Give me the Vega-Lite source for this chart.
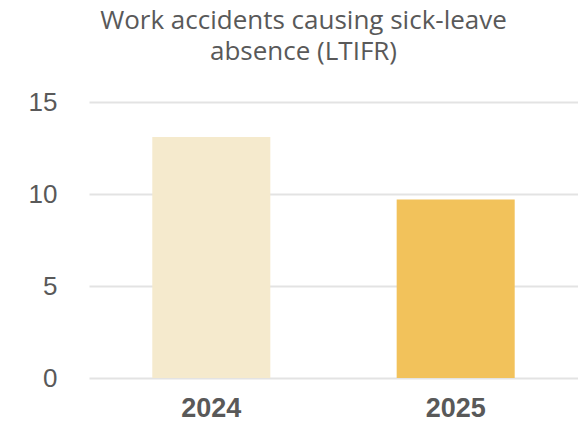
{
  "$schema": "https://vega.github.io/schema/vega-lite/v6.json",
  "autosize": "none",
  "width": 489,
  "height": 276,
  "padding": {"left": 89, "top": 102, "right": 0, "bottom": 44},
  "background": "white",
  "title": {
    "text": ["Work accidents causing sick-leave", "absence (LTIFR)"],
    "font": "Open Sans",
    "fontSize": 26,
    "fontWeight": "normal",
    "color": "#595959",
    "lineHeight": 31,
    "anchor": "middle",
    "dx": -30,
    "offset": 24
  },
  "data": {
    "values": [
      {"year": "2024", "value": 13.1},
      {"year": "2025", "value": 9.7}
    ]
  },
  "mark": {"type": "bar"},
  "encoding": {
    "x": {
      "field": "year",
      "type": "nominal",
      "sort": null,
      "scale": {"paddingInner": 0.517, "paddingOuter": 0.259},
      "axis": {
        "title": null,
        "labelAngle": 0,
        "labelFont": "Liberation Sans",
        "labelFontSize": 27,
        "labelFontWeight": "bold",
        "labelColor": "#595959",
        "labelPadding": 17,
        "ticks": false,
        "domain": false,
        "grid": false
      }
    },
    "y": {
      "field": "value",
      "type": "quantitative",
      "scale": {"domain": [0, 15]},
      "axis": {
        "title": null,
        "values": [0, 5, 10, 15],
        "labelFont": "Liberation Sans",
        "labelFontSize": 26,
        "labelColor": "#595959",
        "labelPadding": 32,
        "ticks": false,
        "domain": false,
        "grid": true,
        "gridColor": "#e3e3e3",
        "gridWidth": 2
      }
    },
    "color": {
      "field": "year",
      "type": "nominal",
      "scale": {"domain": ["2024", "2025"], "range": ["#F5EACD", "#F2C25B"]},
      "legend": null
    }
  },
  "config": {"view": {"stroke": null}}
}
